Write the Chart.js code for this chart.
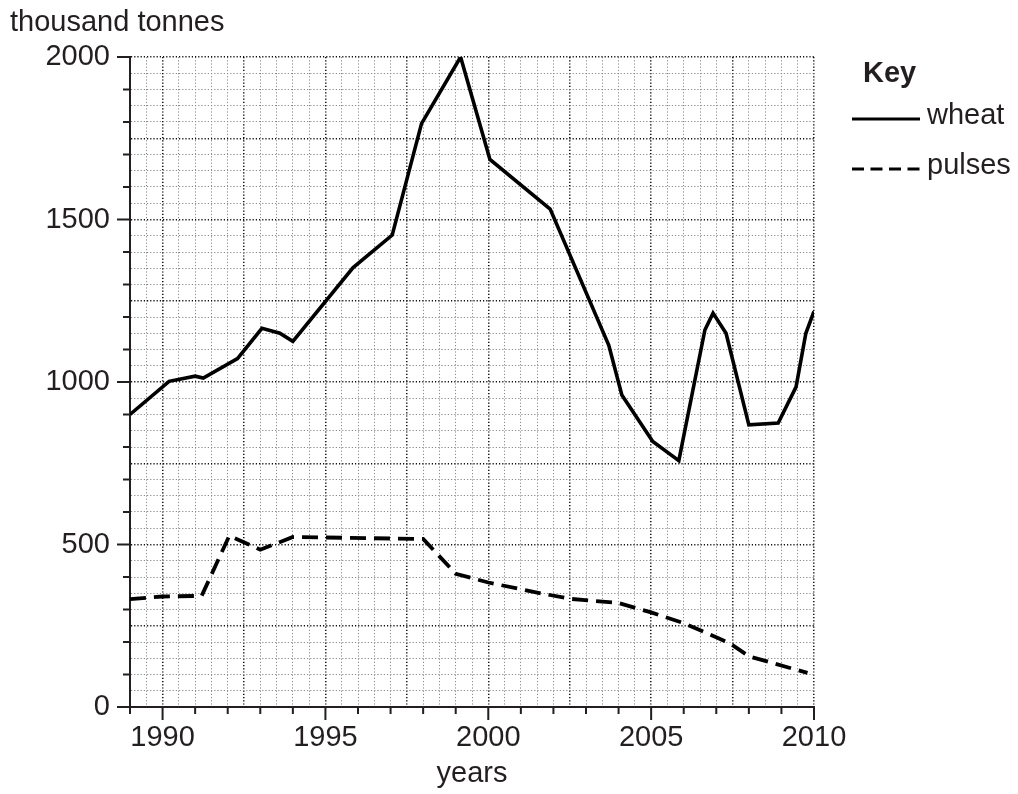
<!DOCTYPE html>
<html>
<head>
<meta charset="utf-8">
<script src="https://cdn.jsdelivr.net/npm/chart.js@4/dist/chart.umd.min.js"></script>
<style>
  body { margin: 0; background: #fff; }
  #wrap { width: 1018px; height: 794px; position: relative; }
</style>
</head>
<body>
<div id="wrap"><canvas id="myChart"></canvas></div>
<script>
// values (years are not always whole years)
var wheatYears = [1989, 1990.2, 1991, 1991.25, 1992.3, 1993.05, 1993.6, 1994, 1995.85, 1997.05, 1997.95, 1999.15, 2000.05, 2001.9, 2003.7, 2004.1, 2005.05, 2005.85, 2006.65, 2006.9, 2007.3, 2008, 2008.9, 2009.45, 2009.75, 2010];
var wheatValues = [900, 1002, 1018, 1012, 1072, 1165, 1150, 1125, 1352, 1452, 1795, 2000, 1685, 1532, 1113, 960, 817, 758, 1160, 1212, 1150, 868, 874, 985, 1150, 1217];

var pulseYears = [1989, 1990, 1991.2, 1992.05, 1993, 1994, 1998, 1999, 2000, 2001.5, 2002.5, 2004, 2005, 2006, 2007.4, 2008, 2009.8];
var pulseValues = [332, 340, 342, 527, 484, 523, 517, 410, 383, 352, 333, 320, 291, 258, 197, 156, 105];

var xLabels = [1990, 1995, 2000, 2005, 2010];
var yLabels = [0, 500, 1000, 1500, 2000];

var font = '"Liberation Sans", Arial, sans-serif';
var ink = '#231f20';

function toPoints(xs, ys) {
    var pts = [];
    for (var i = 0; i < xs.length; i++) {
        pts.push({x: xs[i], y: ys[i]});
    }
    return pts;
}

function gridColor(ctx, major) {
    var v = ctx.tick ? ctx.tick.value : 0;
    return Math.abs(v % major) < 1e-6 ? '#111' : '#8a8a8a';
}
function gridWidth(ctx, major) {
    var v = ctx.tick ? ctx.tick.value : 0;
    return Math.abs(v % major) < 1e-6 ? 1.5 : 1;
}

// small tick marks outside the axes, long ones where there is a label
var tickMarks = {
    id: 'tickMarks',
    afterDraw: function(chart) {
        var c = chart.ctx;
        var xs = chart.scales.x, ys = chart.scales.y;
        var area = chart.chartArea;
        c.save();
        c.strokeStyle = ink;
        c.lineWidth = 2;
        c.beginPath();
        for (var yr = xs.min; yr <= xs.max; yr++) {
            var px = xs.getPixelForValue(yr);
            var len = xLabels.indexOf(yr) >= 0 ? 13 : 7;
            c.moveTo(px, area.bottom);
            c.lineTo(px, area.bottom + len);
        }
        for (var v = ys.min; v <= ys.max; v += 100) {
            var py = ys.getPixelForValue(v);
            var len2 = yLabels.indexOf(v) >= 0 ? 13 : 7;
            c.moveTo(area.left, py);
            c.lineTo(area.left - len2, py);
        }
        c.stroke();

        // unit label on top of the y axis
        c.fillStyle = ink;
        c.font = '29px ' + font;
        c.textBaseline = 'middle';
        c.textAlign = 'left';
        c.fillText('thousand tonnes', 10, 23);
        c.restore();
    }
};

// the "Key" box on the right
var keyBox = {
    id: 'keyBox',
    afterDraw: function(chart) {
        var c = chart.ctx;
        var dsets = chart.data.datasets;
        c.save();
        c.fillStyle = ink;
        c.textBaseline = 'middle';
        c.textAlign = 'left';
        c.font = 'bold 29px ' + font;
        c.fillText('Key', 863, 74);
        c.font = '29px ' + font;
        var rows = [119, 169];
        for (var i = 0; i < dsets.length; i++) {
            c.strokeStyle = dsets[i].borderColor;
            c.lineWidth = 3.2;
            c.setLineDash(dsets[i].borderDash ? [12, 6.5] : []);
            c.beginPath();
            c.moveTo(852, rows[i]);
            c.lineTo(920, rows[i]);
            c.stroke();
            c.fillText(dsets[i].label, 927, rows[i] - 3);
        }
        c.restore();
    }
};

var ctx = document.getElementById('myChart');

var myChart = new Chart(ctx, {
    type: 'line',
    data: {
        datasets: [
            {
                label: 'wheat',
                data: toPoints(wheatYears, wheatValues),
                borderColor: '#000',
                borderWidth: 3.6,
                pointRadius: 0,
                tension: 0
            },
            {
                label: 'pulses',
                data: toPoints(pulseYears, pulseValues),
                borderColor: '#000',
                borderWidth: 3.8,
                borderDash: [16, 8],
                pointRadius: 0,
                tension: 0
            }
        ]
    },
    options: {
        responsive: true,
        maintainAspectRatio: false,
        animation: false,
        layout: {
            padding: {top: 57, right: 204, bottom: 0, left: 0}
        },
        plugins: {
            legend: { display: false },
            tooltip: { enabled: false }
        },
        scales: {
            x: {
                type: 'linear',
                min: 1989,
                max: 2010,
                afterFit: function(s) { s.height = 87; },
                ticks: {
                    stepSize: 0.5,
                    autoSkip: false,
                    maxRotation: 0,
                    padding: 14,
                    color: ink,
                    font: { family: font, size: 29 },
                    callback: function(value) {
                        return xLabels.indexOf(value) >= 0 ? String(value) : '';
                    }
                },
                grid: {
                    drawTicks: false,
                    color: function(c) { return gridColor(c, 2.5); },
                    lineWidth: function(c) { return gridWidth(c, 2.5); }
                },
                border: { color: ink, width: 2, dash: [1.2, 2] },
                title: {
                    display: true,
                    text: 'years',
                    color: ink,
                    font: { family: font, size: 29 },
                    padding: { top: 0, bottom: 3 }
                }
            },
            y: {
                min: 0,
                max: 2000,
                afterFit: function(s) { s.width = 130; },
                ticks: {
                    stepSize: 50,
                    autoSkip: false,
                    padding: 20,
                    color: ink,
                    font: { family: font, size: 29 },
                    callback: function(value) {
                        return yLabels.indexOf(value) >= 0 ? String(value) : '';
                    }
                },
                grid: {
                    drawTicks: false,
                    color: function(c) { return gridColor(c, 250); },
                    lineWidth: function(c) { return gridWidth(c, 250); }
                },
                border: { color: ink, width: 2, dash: [1.2, 2] }
            }
        }
    },
    plugins: [tickMarks, keyBox]
});
</script>
</body>
</html>
